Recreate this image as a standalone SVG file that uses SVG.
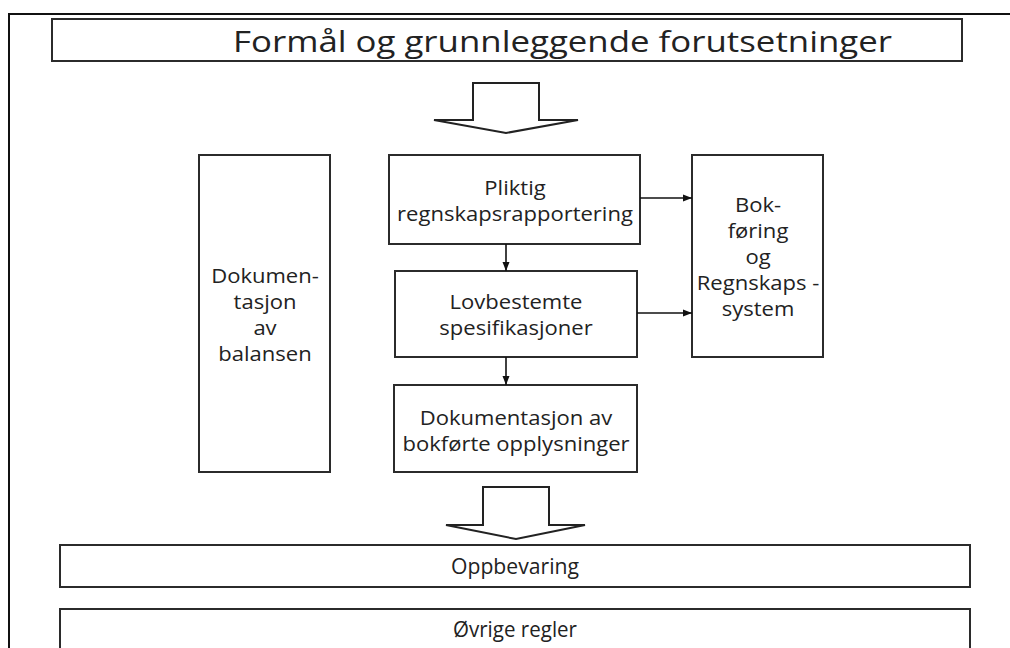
<svg xmlns="http://www.w3.org/2000/svg" width="1010" height="648" viewBox="0 0 1010 648">
<style>
.box{fill:#fff;stroke:#2b2b2b;stroke-width:2}
.frame{fill:none;stroke:#111;stroke-width:2}
.lbl{font-family:"Open Sans","Noto Sans",sans-serif;font-size:19.5px;fill:#222;text-anchor:middle}
.ttl{font-family:"Open Sans","Noto Sans",sans-serif;fill:#222}
.con{stroke:#111;stroke-width:1.6;fill:none;marker-end:url(#ah)}
.big{fill:#fff;stroke:#222;stroke-width:2;stroke-linejoin:miter}
</style>
<defs>
<marker id="ah" markerWidth="10" markerHeight="8" refX="9" refY="4" orient="auto" markerUnits="userSpaceOnUse">
<path d="M0,0.5 L9,4 L0,7.5 z" fill="#111"/>
</marker>
</defs>
<rect width="1010" height="648" fill="#fff"/>
<path class="frame" d="M9,648 V14 H1010"/>

<g id="title">
<rect class="box" x="52" y="19" width="910" height="42"/>
<text class="ttl" x="233" y="52" font-size="29" textLength="659" lengthAdjust="spacingAndGlyphs">Formål og grunnleggende forutsetninger</text>
</g>

<g id="arrow-top">
<path class="big" d="M473,83 H539 V120 H578 L506,133 L434,120 H473 Z"/>
</g>

<g id="dok-balansen">
<rect class="box" x="199" y="155" width="131" height="317"/>
<text class="lbl" transform="matrix(1.13 0 0 1 265 283)">Dokumen-</text>
<text class="lbl" transform="matrix(1.13 0 0 1 265 309)">tasjon</text>
<text class="lbl" transform="matrix(1.13 0 0 1 265 335)">av</text>
<text class="lbl" transform="matrix(1.13 0 0 1 265 361)">balansen</text>
</g>

<g id="pliktig">
<rect class="box" x="389" y="155" width="251" height="89"/>
<text class="lbl" transform="matrix(1.13 0 0 1 515 195)">Pliktig</text>
<text class="lbl" transform="matrix(1.13 0 0 1 515 221)">regnskapsrapportering</text>
</g>

<g id="lovbestemte">
<rect class="box" x="395" y="271" width="242" height="86"/>
<text class="lbl" transform="matrix(1.13 0 0 1 516 309)">Lovbestemte</text>
<text class="lbl" transform="matrix(1.13 0 0 1 516 335)">spesifikasjoner</text>
</g>

<g id="dok-bokforte">
<rect class="box" x="394" y="385" width="243" height="87"/>
<text class="lbl" transform="matrix(1.13 0 0 1 516 425)">Dokumentasjon av</text>
<text class="lbl" transform="matrix(1.13 0 0 1 516 451)">bokførte opplysninger</text>
</g>

<g id="bokforing">
<rect class="box" x="692" y="155" width="131" height="202"/>
<text class="lbl" transform="matrix(1.13 0 0 1 758 212)">Bok-</text>
<text class="lbl" transform="matrix(1.13 0 0 1 758 238)">føring</text>
<text class="lbl" transform="matrix(1.13 0 0 1 758 264)">og</text>
<text class="lbl" transform="matrix(1.13 0 0 1 758 290)">Regnskaps -</text>
<text class="lbl" transform="matrix(1.13 0 0 1 758 316)">system</text>
</g>

<g id="connectors">
<line class="con" x1="640" y1="198" x2="692" y2="198"/>
<line class="con" x1="637" y1="313" x2="692" y2="313"/>
<line class="con" x1="506" y1="244" x2="506" y2="271"/>
<line class="con" x1="506" y1="357" x2="506" y2="385"/>
</g>

<g id="arrow-bottom">
<path class="big" d="M483,487 H549 V525 H585 L516,539 L446,525 H483 Z"/>
</g>

<g id="oppbevaring">
<rect class="box" x="60" y="545" width="910" height="42"/>
<text class="ttl" x="515" y="574" font-size="21" text-anchor="middle" textLength="128" lengthAdjust="spacingAndGlyphs">Oppbevaring</text>
</g>

<g id="ovrige">
<rect class="box" x="60" y="609" width="910" height="60"/>
<text class="ttl" x="515" y="637" font-size="21" text-anchor="middle" textLength="124" lengthAdjust="spacingAndGlyphs">Øvrige regler</text>
</g>
</svg>
